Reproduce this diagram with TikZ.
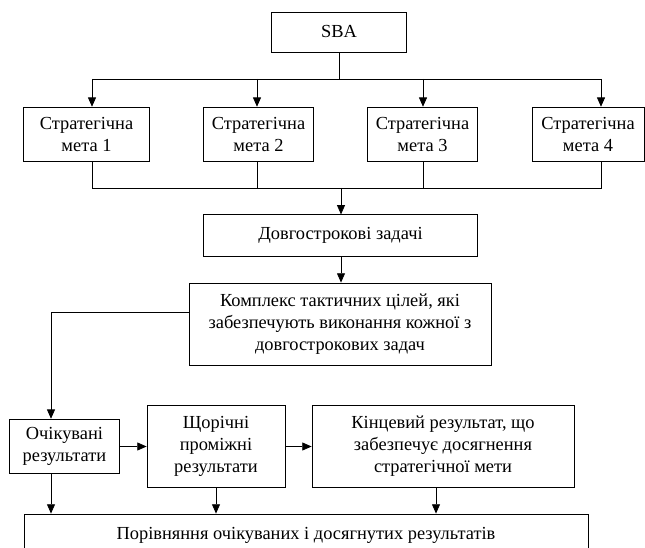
\documentclass[tikz,border=0pt]{standalone}
\usepackage{fontspec}
\setmainfont{Liberation Serif}
\usetikzlibrary{shapes,arrows,arrows.meta,positioning}
\tikzset{
  box/.style={draw, line width=0.6pt, align=center, inner sep=2pt, font=\fontsize{13.8}{16.5}\selectfont},
  arr/.style={-{Triangle[length=7pt,width=6pt]}, line width=0.6pt},
  ln/.style={line width=0.6pt}
}

\begin{document}
\begin{tikzpicture}[x=0.75pt, y=-0.75pt]
				\useasboundingbox (0,0) rectangle (645,548);
				% Draw boxes
				\node[box, minimum width=101pt, minimum height=30pt] (sba) at (339,32) {SBA};
				\node[box, minimum width=94pt, minimum height=41pt] (goal1) at (86.5,134.5) {Стратегічна\\мета 1};
				\node[box, minimum width=83pt, minimum height=41pt] (goal2) at (258.5,134.5) {Стратегічна\\мета 2};
				\node[box, minimum width=83pt, minimum height=41pt] (goal3) at (422.5,134.5) {Стратегічна\\мета 3};
				\node[box, minimum width=84pt, minimum height=41pt] (goal4) at (588,134.5) {Стратегічна\\мета 4};
				\node[box, minimum width=206pt, minimum height=31pt] (tasks) at (340.5,235.5) {Довгострокові задачі};
				\node[box, minimum width=226.5pt, minimum height=61.5pt] (tactics) at (340,324) {Комплекс тактичних цілей, які\\забезпечують виконання кожної з\\довгострокових задач};
				\node[box, minimum width=83pt, minimum height=41pt] (expected) at (64.5,446.5) {Очікувані\\результати};
				\node[box, minimum width=103.5pt, minimum height=61pt] (annual) at (216,446.5) {Щорічні\\проміжні\\результати};
				\node[box, minimum width=196.5pt, minimum height=61pt] (final) at (443,446.5) {Кінцевий результат, що\\забезпечує досягнення\\стратегічної мети};
				\node[box, minimum width=423pt, minimum height=31.5pt] (compare) at (306,535) {Порівняння очікуваних і досягнутих результатів};
				% Draw bus points
				\coordinate (top1) at (92,79);
				\coordinate (top2) at (257,79);
				\coordinate (top3) at (423,79);
				\coordinate (top4) at (601,79);
				\coordinate (bus1) at (92,188);
				\coordinate (bus4) at (601,188);
				\coordinate (busc) at (341,188);
				\coordinate (turn) at (51,312);
				% Draw connectors
				\draw[ln] (sba.south) -- (sba.south |- top1);
				\draw[ln] (top1) -- (top4);
				\draw[arr] (top1) -- (top1 |- goal1.north);
				\draw[arr] (top2) -- (top2 |- goal2.north);
				\draw[arr] (top3) -- (top3 |- goal3.north);
				\draw[arr] (top4) -- (top4 |- goal4.north);
				\draw[ln] (bus1 |- goal1.south) -- (bus1) -- (bus4) -- (bus4 |- goal4.south);
				\draw[ln] (top2 |- goal2.south) -- (top2 |- bus1);
				\draw[ln] (top3 |- goal3.south) -- (top3 |- bus1);
				\draw[arr] (busc) -- (busc |- tasks.north);
				\draw[arr] (busc |- tasks.south) -- (busc |- tactics.north);
				\draw[arr] (tactics.west |- turn) -- (turn) -- (turn |- expected.north);
				\draw[arr] (expected.east |- annual) -- (annual.west);
				\draw[arr] (annual.east) -- (final.west);
				\draw[arr] (turn |- expected.south) -- (turn |- compare.north);
				\draw[arr] (annual.south) -- (annual.south |- compare.north);
				\draw[arr] ([xshift=-5.25pt]final.south) -- ([xshift=-5.25pt]final.south |- compare.north);
			\end{tikzpicture}
\end{document}
